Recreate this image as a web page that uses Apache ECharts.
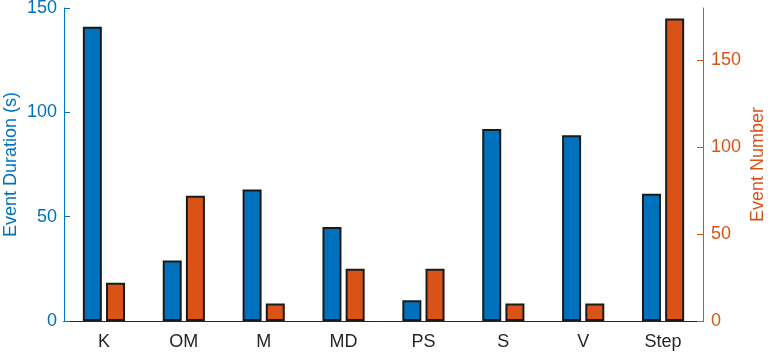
<!DOCTYPE html>
<html>
<head>
<meta charset="utf-8">
<script src="https://cdn.jsdelivr.net/npm/echarts@6/dist/echarts.min.js"></script>
<style>
  html, body { margin: 0; padding: 0; background: #fff; }
  #chart { width: 768px; height: 354px; }
</style>
</head>
<body>
<div id="chart"></div>
<script>
// categories and values
let categories = ["K", "OM", "M", "MD", "PS", "S", "V", "Step"];
let durationValues = [141, 29, 63, 45, 10, 92, 89, 61];
let numberValues = [22, 72, 10, 30, 30, 10, 10, 174];

let blue = "#0072BD";
let orange = "#D95319";
let fontName = "Liberation Sans";

let chart = echarts.init(document.getElementById("chart"));

let option = {
  animation: false,
  grid: {
    left: 64,
    right: 65,
    top: 8,
    bottom: 33,
    outerBoundsMode: "none",
    containLabel: false,
  },
  xAxis: [
    {
      type: "category",
      data: categories,
      axisLine: { lineStyle: { color: "#262626", width: 1 } },
      axisTick: {
        alignWithLabel: true,
        inside: true,
        length: 5,
        lineStyle: { color: "#555" },
      },
      axisLabel: {
        color: "#262626",
        fontSize: 18,
        fontFamily: fontName,
        margin: 12,
      },
    },
    {
      type: "category",
      data: categories,
      position: "top",
      axisLine: { lineStyle: { color: "#262626", width: 1 } },
      axisTick: {
        alignWithLabel: true,
        inside: true,
        length: 5,
        lineStyle: { color: "#262626" },
      },
      axisLabel: { show: false },
    },
  ],
  yAxis: [
    {
      type: "value",
      min: 0,
      max: 150,
      interval: 50,
      name: "Event Duration (s)",
      nameLocation: "middle",
      nameGap: 44,
      nameMoveOverlap: false,
      nameTextStyle: { color: blue, fontSize: 18, fontFamily: fontName },
      axisLine: { show: true, lineStyle: { color: blue, width: 1 } },
      axisTick: { show: true, inside: true, length: 6, lineStyle: { color: blue } },
      axisLabel: { color: blue, fontSize: 18, fontFamily: fontName, margin: 7 },
      splitLine: { show: false },
    },
    {
      type: "value",
      min: 0,
      max: 180,
      interval: 50,
      position: "right",
      name: "Event Number",
      nameLocation: "middle",
      nameGap: 46,
      nameMoveOverlap: false,
      nameRotate: 90,
      nameTextStyle: { color: orange, fontSize: 18, fontFamily: fontName },
      axisLine: { show: true, lineStyle: { color: orange, width: 1 } },
      axisTick: { show: true, inside: true, length: 6, lineStyle: { color: orange } },
      axisLabel: {
        color: orange,
        fontSize: 18,
        fontFamily: fontName,
        margin: 8,
        showMaxLabel: false,
      },
      splitLine: { show: false },
    },
  ],
  series: [
    {
      type: "bar",
      data: durationValues,
      yAxisIndex: 0,
      barWidth: 19,
      barGap: "22%",
      itemStyle: { color: blue, borderColor: "#1a1a1a", borderWidth: 2 },
    },
    {
      type: "bar",
      data: numberValues,
      yAxisIndex: 1,
      barWidth: 19,
      barGap: "22%",
      itemStyle: { color: orange, borderColor: "#1a1a1a", borderWidth: 2 },
    },
  ],
};

chart.setOption(option);
</script>
</body>
</html>
